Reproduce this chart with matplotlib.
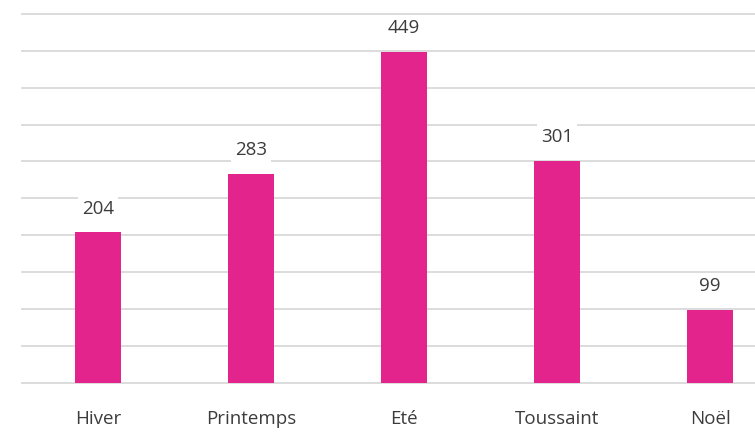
import matplotlib
matplotlib.use("Agg")
import matplotlib.pyplot as plt

categories = ["Hiver", "Printemps", "Eté", "Toussaint", "Noël"]
values = [204, 283, 449, 301, 99]

bar_color = "#E2248C"
grid_color = "#D9D9D9"
text_color = "#3C3C3C"

plt.rcParams["font.family"] = ["Open Sans", "DejaVu Sans"]

fig = plt.figure(figsize=(7.55, 4.34), dpi=100)
# plot area extends a little past the right edge of the figure
ax = fig.add_axes([21.5 / 755, 1 - 382.5 / 434, 765 / 755, 368.5 / 434])

x = list(range(len(categories)))
ax.bar(x, values, width=0.307, color=bar_color, zorder=3)

ax.set_xlim(-0.5, len(categories) - 0.5)
ax.set_ylim(0, 500)
ax.set_yticks(range(0, 501, 50))
ax.yaxis.grid(True, color=grid_color, linewidth=1.3, zorder=0)
for gl in ax.get_ygridlines():
    gl.set_clip_on(False)
ax.tick_params(axis="y", left=False, labelleft=False)
ax.tick_params(axis="x", bottom=False, labelsize=13.5, labelcolor=text_color, pad=16)
ax.set_xticks(x)
ax.set_xticklabels(categories)
for side in ("top", "right", "left", "bottom"):
    ax.spines[side].set_visible(False)

for xi, v in zip(x, values):
    ax.annotate(str(v), (xi, v), xytext=(0, 17), textcoords="offset points",
                ha="center", va="center", fontsize=13.5, color=text_color,
                bbox=dict(boxstyle="square,pad=0.2", fc="white", ec="none"),
                zorder=4)

fig.savefig("out.png", dpi=100)
